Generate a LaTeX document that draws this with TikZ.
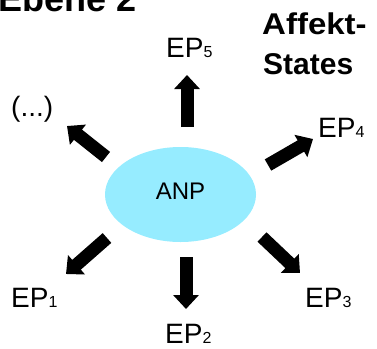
\documentclass[tikz,border=0pt]{standalone}
\usepackage{fontspec}
\setmainfont{Liberation Sans}
\usetikzlibrary{arrows.meta,shapes.geometric}
\newcommand{\mysub}[1]{{\fontsize{16}{16}\selectfont #1}}
\begin{document}
\begin{tikzpicture}[x=1pt,y=-1pt,
  lbl/.style={anchor=base west,inner sep=0pt,font=\fontsize{28}{30}\selectfont},
  ttl/.style={anchor=base west,inner sep=0pt,font=\fontsize{30}{32}\selectfont\bfseries},
  bigarrow/.style={line width=13pt,-{Triangle[width=25pt,length=14pt]}},
  blob/.style={ellipse,fill=anpcyan,draw=none,inner sep=0pt,minimum width=151pt,minimum height=95pt,
    text depth=6pt,font=\fontsize{24}{26}\selectfont}
]
\definecolor{anpcyan}{RGB}{150,236,255}
\useasboundingbox (0,0) rectangle (377,348);
% titles
\node[ttl,font=\fontsize{36}{38}\selectfont\bfseries] (ebene) at (-2,12) {Ebene 2};
\node[ttl] (aff) at (262,34) {\scalebox{1.1}[1]{Affekt-}};
\node[ttl] (states) at (263,74) {States};
% centre
\node[blob] (anp) at (180.5,194.5) {ANP};
% labels
\node[lbl] (ep5) at (166,57) {EP\mysub{5}};
\node[lbl] (ep4) at (318,137) {EP\mysub{4}};
\node[lbl] (ep3) at (305,307) {EP\mysub{3}};
\node[lbl] (ep2) at (165,343) {EP\mysub{2}};
\node[lbl] (ep1) at (11,307) {EP\mysub{1}};
\node[lbl] (dots) at (11,116) {(...)};
% arrow ends
\coordinate (t5) at (187,127); \coordinate (h5) at (187,75);
\coordinate (t2) at (186,257); \coordinate (h2) at (186,309);
\coordinate (tx) at (106,157); \coordinate (hx) at (67,126);
\coordinate (t4) at (268,165); \coordinate (h4) at (313,139);
\coordinate (t1) at (107,238); \coordinate (h1) at (66,274);
\coordinate (t3) at (262,237); \coordinate (h3) at (300,273);
\draw[bigarrow] (t5) -- (h5);
\draw[bigarrow] (t2) -- (h2);
\draw[bigarrow] (tx) -- (hx);
\draw[bigarrow] (t4) -- (h4);
\draw[bigarrow] (t1) -- (h1);
\draw[bigarrow] (t3) -- (h3);
\end{tikzpicture}
\end{document}
